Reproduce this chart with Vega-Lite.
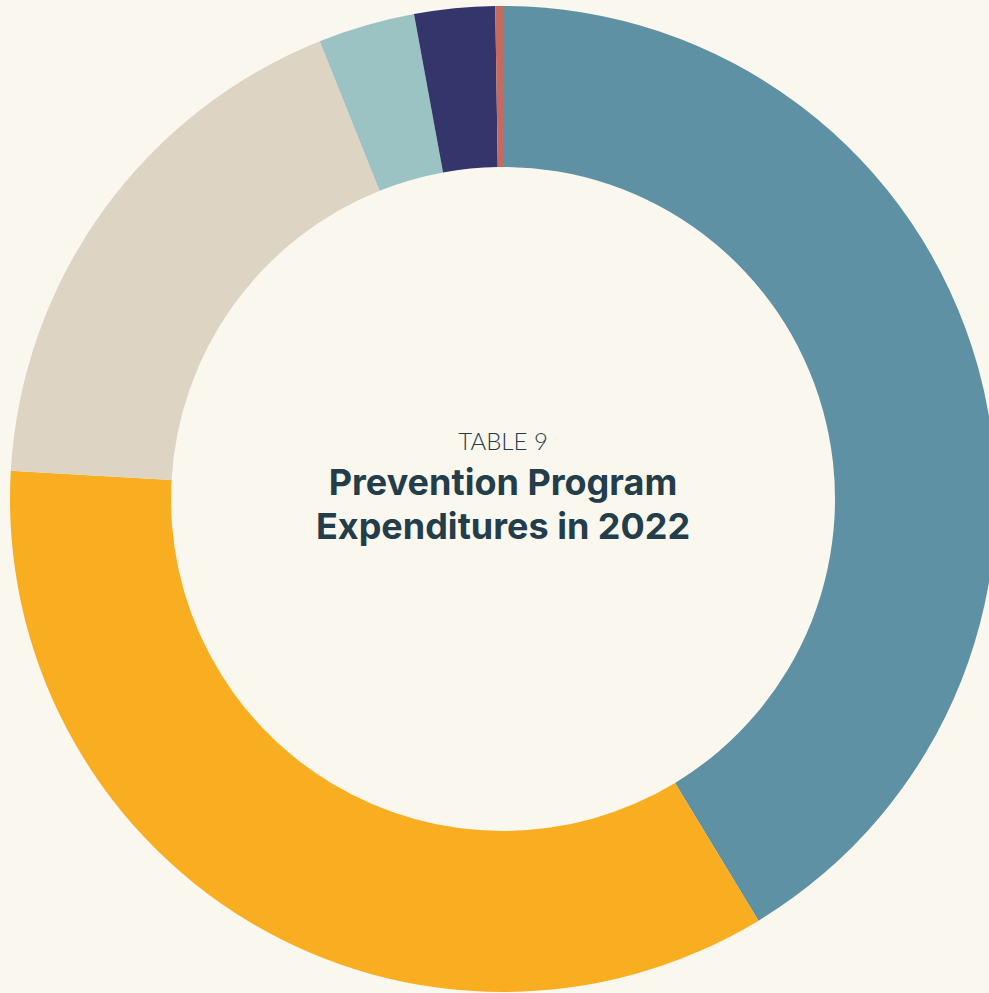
{
  "$schema": "https://vega.github.io/schema/vega-lite/v6.json",
  "width": 989,
  "height": 993,
  "autosize": {"type": "fit", "contains": "padding"},
  "padding": {"left": 17, "top": 5, "right": 0, "bottom": 0},
  "background": "#FAF7EF",
  "config": {"view": {"stroke": null}},
  "layer": [
    {
      "data": {
        "values": [
          {"category": "A", "order": 1, "value": 41.33},
          {"category": "B", "order": 2, "value": 34.58},
          {"category": "C", "order": 3, "value": 18.03},
          {"category": "D", "order": 4, "value": 3.17},
          {"category": "E", "order": 5, "value": 2.64},
          {"category": "F", "order": 6, "value": 0.25}
        ]
      },
      "mark": {"type": "arc", "radius": 493, "radius2": 332},
      "encoding": {
        "theta": {"field": "value", "type": "quantitative", "stack": true},
        "order": {"field": "order", "type": "quantitative"},
        "color": {
          "field": "category",
          "type": "nominal",
          "legend": null,
          "scale": {
            "domain": ["A", "B", "C", "D", "E", "F"],
            "range": ["#5E91A3", "#F9AE22", "#DDD4C4", "#9CC3C4", "#34356B", "#C66A60"]
          }
        }
      }
    },
    {
      "data": {"values": [{"t": "TABLE 9"}]},
      "mark": {"type": "text", "font": "Lato", "fontWeight": 300, "fontSize": 24, "color": "#233D4A", "baseline": "middle", "align": "center", "dy": -56},
      "encoding": {"text": {"field": "t", "type": "nominal"}}
    },
    {
      "data": {"values": [{"t": "Prevention Program"}]},
      "mark": {"type": "text", "font": "Inter", "fontWeight": "bold", "fontSize": 36, "color": "#233D4A", "baseline": "middle", "align": "center", "dy": -15},
      "encoding": {"text": {"field": "t", "type": "nominal"}}
    },
    {
      "data": {"values": [{"t": "Expenditures in 2022"}]},
      "mark": {"type": "text", "font": "Inter", "fontWeight": "bold", "fontSize": 36, "color": "#233D4A", "baseline": "middle", "align": "center", "dy": 29},
      "encoding": {"text": {"field": "t", "type": "nominal"}}
    }
  ]
}
